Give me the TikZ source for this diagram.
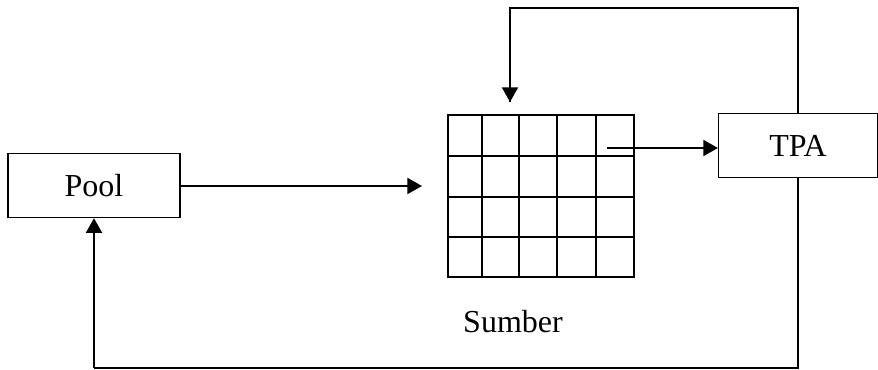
\documentclass[tikz,border=0pt]{standalone}
\usepackage{fontspec}
\setmainfont{Liberation Serif}
\usetikzlibrary{arrows.meta,positioning}

\begin{document}
\begin{tikzpicture}[x=0.75pt,y=-0.75pt,
  box/.style={draw,line width=1.1pt,minimum height=48pt,inner sep=2pt,
              font=\fontsize{24}{28}\selectfont},
  flow/.style={line width=1.5pt,-{Triangle[length=11pt,width=12pt]}},
  wire/.style={line width=1.1pt},
  cell/.style={line width=1.2pt},
]
\useasboundingbox (0,0) rectangle (878,370);
\node[box,minimum width=129pt] (pool) at (94,185.5) {Pool};
\node[box,minimum width=119pt] (tpa) at (798,145.5) {TPA};
\node[draw,cell,minimum width=139.5pt,minimum height=121.5pt,inner sep=0pt] (sumber) at (541,196) {};
\foreach \gx in {482,519,557,596}
  \draw[cell] (\gx,115) -- (\gx,277);
\foreach \gy in {156,197,237}
  \draw[cell] (448,\gy) -- (634,\gy);
\node[font=\fontsize{24}{28}\selectfont] (sumberlabel) at (513,322) {Sumber};
% free ends of the connectors
\coordinate (gridin) at (422,186);
\coordinate (gridout) at (607,148);
\coordinate (top) at (510,8);
\coordinate (gridtop) at (510,102);
\coordinate (bottom) at (94,368);
\draw[flow] (pool.east |- gridin) -- (gridin);
\draw[flow] (gridout) -- (gridout -| tpa.west);
\draw[wire] (tpa.north) |- (top) -- (gridtop);
\draw[flow] (top) -- (gridtop);
\draw[wire] (tpa.south) |- (bottom);
\draw[flow] (bottom) -- (pool.south);
\end{tikzpicture}
\end{document}
